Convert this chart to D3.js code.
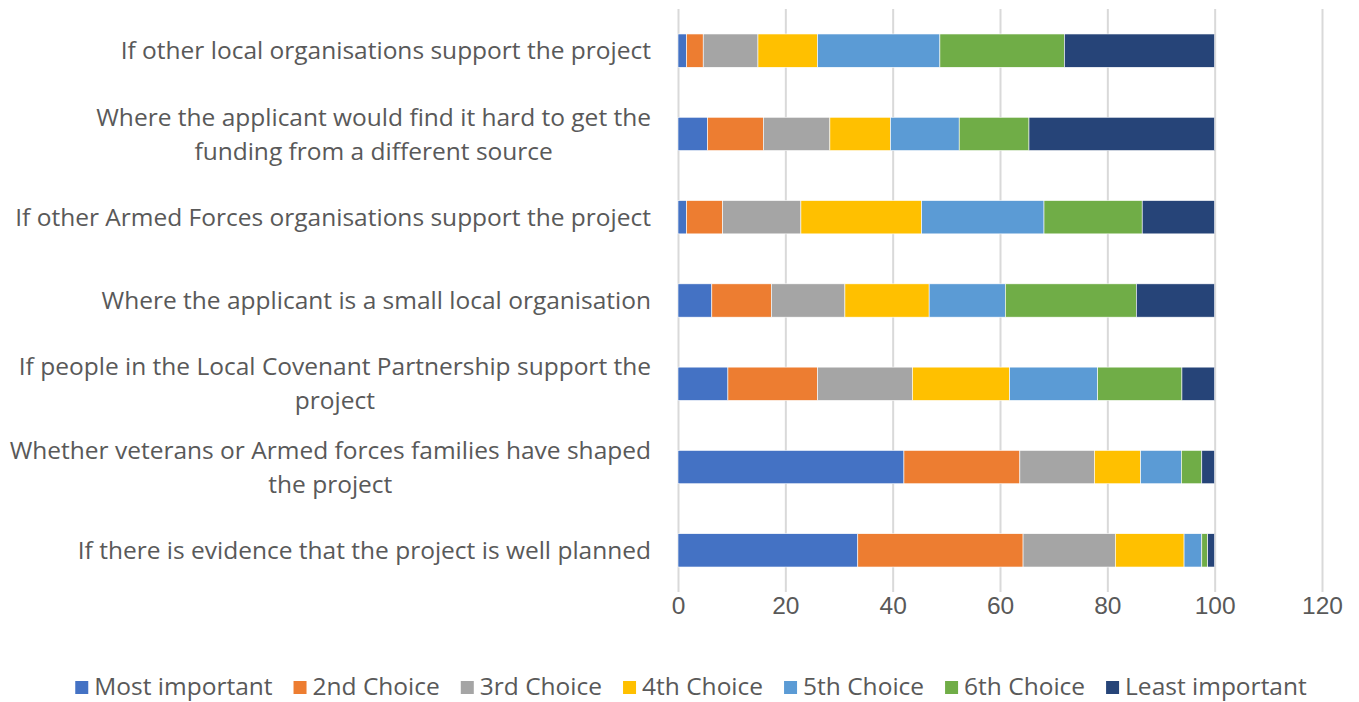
<!DOCTYPE html>
<html>
<head>
<meta charset="utf-8">
<script src="https://cdn.jsdelivr.net/npm/d3@7"></script>
<style>
  body { margin: 0; background: #fff; }
  svg { font-family: "Open Sans", sans-serif; }
  .tick line { stroke: #d9d9d9; stroke-width: 2px; }
  .tick text { fill: #595959; font-size: 24.5px; }
</style>
</head>
<body>
<svg width="1359" height="702"></svg>
<script>
// categories, top to bottom ("\n" marks a line break)
var categories = [
  "If other local organisations support the project",
  "Where the applicant would find it hard to get the\nfunding from a different source",
  "If other Armed Forces organisations support the project",
  "Where the applicant is a small local organisation",
  "If people in the Local Covenant Partnership support the\nproject",
  "Whether veterans or Armed forces families have shaped\nthe project",
  "If there is evidence that the project is well planned"
];

var seriesNames = ["Most important", "2nd Choice", "3rd Choice", "4th Choice",
  "5th Choice", "6th Choice", "Least important"];
var seriesColors = ["#4472C4", "#ED7D31", "#A5A5A5", "#FFC000", "#5B9BD5", "#70AD47", "#264478"];

var mostImportant  = [1.6, 5.5, 1.6, 6.3, 9.3, 42.1, 33.5];
var secondChoice   = [3.1, 10.4, 6.7, 11.1, 16.7, 21.6, 30.8];
var thirdChoice    = [10.2, 12.4, 14.6, 13.7, 17.7, 13.9, 17.2];
var fourthChoice   = [11.1, 11.3, 22.5, 15.7, 18.1, 8.6, 12.8];
var fifthChoice    = [22.8, 12.8, 22.8, 14.2, 16.4, 7.6, 3.3];
var sixthChoice    = [23.2, 13.0, 18.3, 24.4, 15.7, 3.8, 1.1];
var leastImportant = [28.0, 34.6, 13.5, 14.6, 6.1, 2.4, 1.3];

var xTicks = [0, 20, 40, 60, 80, 100, 120];

var seriesValues = [mostImportant, secondChoice, thirdChoice, fourthChoice,
  fifthChoice, sixthChoice, leastImportant];

// build rows for d3.stack
var rows = categories.map(function (c, i) {
  var r = { category: c };
  seriesNames.forEach(function (s, j) { r[s] = seriesValues[j][i]; });
  return r;
});

var svg = d3.select("svg");
var plotLeft = 678, plotRight = 1322, plotTop = 9, plotBottom = 592;
var fontSize = 24.5;

var xScale = d3.scaleLinear().domain([0, 120]).range([plotLeft, plotRight]);
var yScale = d3.scaleBand().domain(categories).range([plotTop, plotBottom])
  .paddingInner(0.6).paddingOuter(0.3);

var xAxis = d3.axisBottom(xScale)
  .tickValues(xTicks)
  .tickSize(-(plotBottom - plotTop))
  .tickPadding(4);

svg.append("g")
  .attr("id", "xAxisG")
  .attr("transform", "translate(0," + plotBottom + ")")
  .call(xAxis);
d3.select("#xAxisG > path.domain").remove();
d3.selectAll("#xAxisG text").attr("y", 13).attr("dy", "0.35em");

var stacked = d3.stack().keys(seriesNames)(rows);

svg.append("g")
  .selectAll("g.series")
  .data(stacked).enter()
  .append("g")
  .attr("class", "series")
  .style("fill", function (d, i) { return seriesColors[i]; })
  .selectAll("rect")
  .data(function (d) { return d; }).enter()
  .append("rect")
  .attr("x", function (d) { return xScale(d[0]); })
  .attr("width", function (d) { return xScale(d[1]) - xScale(d[0]); })
  .attr("y", function (d) { return yScale(d.data.category); })
  .attr("height", yScale.bandwidth())
  .style("stroke", "#ffffff")
  .style("stroke-width", "0.6px");

// category labels
var labelRight = 651;
var labelG = svg.append("g");
categories.forEach(function (c) {
  var lines = c.split("\n");
  var cy = yScale(c) + yScale.bandwidth() / 2;
  var lineH = 34;
  var t = labelG.append("text")
    .style("font-size", fontSize + "px")
    .style("fill", "#595959");
  lines.forEach(function (l, k) {
    t.append("tspan")
      .attr("y", cy + (k - (lines.length - 1) / 2) * lineH)
      .attr("dy", "0.35em")
      .text(l);
  });
  if (lines.length === 1) {
    t.attr("text-anchor", "end").selectAll("tspan").attr("x", labelRight);
  } else {
    // centre the lines on the block, block right-aligned at labelRight
    var w = 0;
    t.selectAll("tspan").each(function () { w = Math.max(w, this.getComputedTextLength()); });
    t.attr("text-anchor", "middle").selectAll("tspan").attr("x", labelRight - w / 2);
  }
});

// legend
var legend = svg.append("g");
var lx = 0, legendY = 686, gap = 21;
seriesNames.forEach(function (s, i) {
  var g = legend.append("g");
  g.append("rect")
    .attr("x", 0).attr("y", -5)
    .attr("width", 13).attr("height", 13)
    .style("fill", seriesColors[i]);
  var t = g.append("text")
    .attr("x", 19).attr("dy", "0.35em")
    .style("font-size", fontSize + "px")
    .style("fill", "#595959")
    .text(s);
  var w = 19 + t.node().getComputedTextLength();
  g.attr("transform", "translate(" + lx + "," + legendY + ")");
  lx += w + gap;
});
var totalW = lx - gap;
legend.attr("transform", "translate(" + (691 - totalW / 2) + ",0)");
</script>
</body>
</html>
